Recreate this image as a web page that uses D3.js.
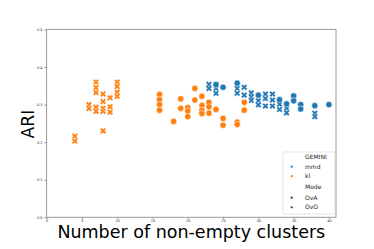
<!DOCTYPE html>
<html>
<head>
<meta charset="utf-8">
<script src="https://cdn.jsdelivr.net/npm/d3@7"></script>
<style>
  html, body { margin: 0; padding: 0; background: #fff; }
  svg { display: block; font-family: "DejaVu Sans", sans-serif; }
</style>
</head>
<body>
<svg id="chart" width="374" height="249"></svg>
<script>
// ---- data ----
const xTicks = [0, 5, 10, 15, 20, 25, 30, 35, 40];
const yTicks = [0.0, 0.1, 0.2, 0.3, 0.4, 0.5];
const yTickLabels = ["0.0", "0.1", "0.2", "0.3", "0.4", "0.5"];

const klOvoX = [4, 4, 6, 6, 7, 7, 7, 7, 7, 8, 8, 8, 8, 8, 9, 9, 9, 10, 10, 10, 10];
const klOvoY = [0.216, 0.203, 0.300, 0.290, 0.360, 0.345, 0.332, 0.293, 0.282, 0.328, 0.308, 0.290, 0.282, 0.230, 0.318, 0.294, 0.280, 0.360, 0.348, 0.333, 0.322];

const klOvaX = [16, 16, 16, 16, 18, 19, 19, 20, 20, 20, 21, 21, 22, 22, 22, 22, 23, 23, 23, 24, 25, 25, 27, 27, 28, 28];
const klOvaY = [0.327, 0.313, 0.300, 0.285, 0.255, 0.315, 0.290, 0.292, 0.283, 0.268, 0.343, 0.312, 0.322, 0.298, 0.285, 0.276, 0.306, 0.294, 0.277, 0.287, 0.263, 0.245, 0.253, 0.247, 0.306, 0.285];

const mmdOvoX = [23, 23, 24, 24, 24, 27, 27, 28, 28, 29, 29, 29, 30, 30, 31, 31, 31, 32, 32, 32, 33, 33, 34, 34, 38, 38];
const mmdOvoY = [0.354, 0.343, 0.354, 0.343, 0.330, 0.343, 0.330, 0.346, 0.325, 0.331, 0.321, 0.311, 0.310, 0.299, 0.328, 0.316, 0.296, 0.328, 0.312, 0.296, 0.301, 0.287, 0.290, 0.278, 0.277, 0.268];

const mmdOvaX = [24, 25, 27, 30, 33, 34, 35, 35, 36, 36, 38, 40];
const mmdOvaY = [0.353, 0.346, 0.357, 0.325, 0.313, 0.302, 0.323, 0.310, 0.300, 0.288, 0.297, 0.300];

const legendItems = ["GEMINI", "mmd", "kl", "Mode", "OvA", "OvO"];

// ---- layout ----
const svg = d3.select("#chart");
const L = 46.6, R = 336, T = 29.4, B = 217.3;
const x = d3.scaleLinear().domain([0, 41]).range([L, R]);
const y = d3.scaleLinear().domain([0, 0.5]).range([B, T]);
const blue = "#1f77b4", orange = "#ff7f0e", spine = "#9a9a9a";

// axes
const xAxis = d3.axisBottom(x).tickValues(xTicks).tickSize(1.6).tickPadding(1).tickFormat(d3.format("d"));
const yAxis = d3.axisLeft(y).tickValues(yTicks).tickSize(2).tickPadding(2).tickFormat((d, i) => yTickLabels[i]);

const gx = svg.append("g").attr("transform", `translate(0,${B})`).call(xAxis);
const gy = svg.append("g").attr("transform", `translate(${L},0)`).call(yAxis);
[gx, gy].forEach(g => {
  g.select(".domain").remove();
  g.selectAll(".tick line").attr("stroke", "#333").attr("stroke-width", 0.6);
  g.selectAll(".tick text").attr("font-size", 3.5).attr("fill", "#222").attr("font-family", "DejaVu Sans");
});

// frame
svg.append("rect").attr("x", L).attr("y", T).attr("width", R - L).attr("height", B - T)
  .attr("fill", "none").attr("stroke", spine).attr("stroke-width", 1);

// markers
const xPath = (s) => {
  const a = s / 2, w = s / 6;
  const pts = [[-w,-a],[-w,-w],[-a,-w],[-a,w],[-w,w],[-w,a],[w,a],[w,w],[a,w],[a,-w],[w,-w],[w,-a]];
  const c = Math.SQRT1_2;
  return "M" + pts.map(([px, py]) => [(px - py) * c, (px + py) * c].map(v => v.toFixed(2)).join(",")).join("L") + "Z";
};

const plot = svg.append("g");
function drawCircles(xs, ys, color) {
  plot.append("g").selectAll("circle").data(xs.map((v, i) => [v, ys[i]])).join("circle")
    .attr("cx", d => x(d[0])).attr("cy", d => y(d[1])).attr("r", 3.1)
    .attr("fill", color).attr("stroke", "#fff").attr("stroke-width", 0.5);
}
function drawX(xs, ys, color) {
  const p = xPath(6.6);
  plot.append("g").selectAll("path").data(xs.map((v, i) => [v, ys[i]])).join("path")
    .attr("transform", d => `translate(${x(d[0])},${y(d[1])})`).attr("d", p)
    .attr("fill", color).attr("stroke", "#fff").attr("stroke-width", 0.45);
}
drawX(klOvoX, klOvoY, orange);
drawCircles(klOvaX, klOvaY, orange);
drawX(mmdOvoX, mmdOvoY, blue);
drawCircles(mmdOvaX, mmdOvaY, blue);

// axis labels
svg.append("text").attr("x", (L + R) / 2).attr("y", 237.7).attr("text-anchor", "middle")
  .attr("font-size", 17.5).attr("fill", "#000").text("Number of non-empty clusters");
svg.append("text").attr("transform", `translate(34.3,124) rotate(-90)`).attr("text-anchor", "middle")
  .attr("font-size", 17.2).attr("fill", "#000").text("ARI");

// legend
const lg = svg.append("g");
lg.append("rect").attr("x", 283).attr("y", 152).attr("width", 52).attr("height", 62).attr("rx", 1.5)
  .attr("fill", "#fff").attr("fill-opacity", 0.8).attr("stroke", "#d0d0d0").attr("stroke-width", 0.6);
const lgY = [157, 166.7, 176.2, 187.3, 197.7, 207.3];
const lgColors = [null, blue, orange, null, "#333", "#333"];
legendItems.forEach((t, i) => {
  lg.append("text").attr("x", 305).attr("y", lgY[i]).attr("dy", "0.35em")
    .attr("font-size", 6).attr("fill", "#222").text(t);
  if (lgColors[i]) {
    lg.append("circle").attr("cx", 291.7).attr("cy", lgY[i]).attr("r", 1.1).attr("fill", lgColors[i]);
  }
});
</script>
</body>
</html>
